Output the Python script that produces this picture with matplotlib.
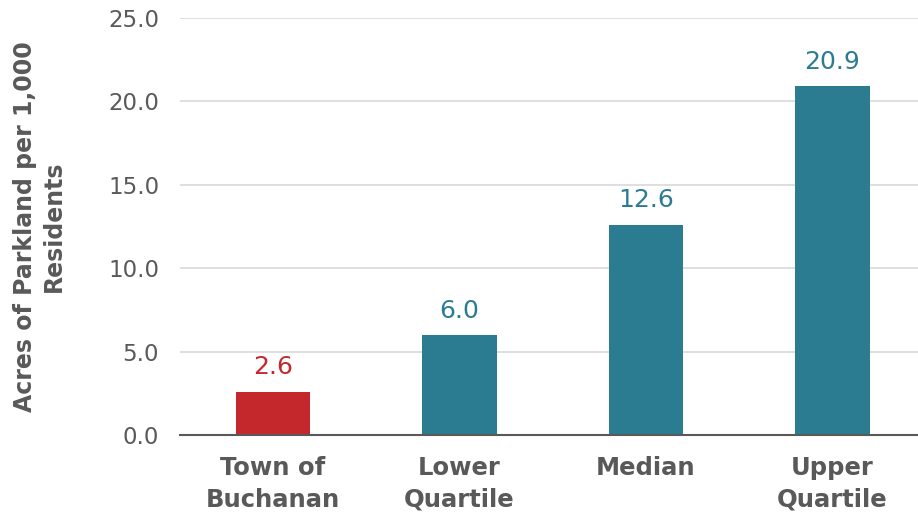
import matplotlib.pyplot as plt

# data
categories = ["Town of\nBuchanan", "Lower\nQuartile", "Median", "Upper\nQuartile"]
values = [2.6, 6.0, 12.6, 20.9]
bar_colors = ["#C4282D", "#2B7C90", "#2B7C90", "#2B7C90"]
yticks = [0, 5, 10, 15, 20, 25]

text_col = "#595959"
plt.rcParams['font.family'] = ['DejaVu Sans']

fig = plt.figure(figsize=(9.18, 5.15), dpi=100)
ax = fig.add_axes([0.196, 0.155, 0.804, 0.81])

x = range(len(values))
bars = ax.bar(x, values, width=0.4, color=bar_colors, zorder=3)

for b, v, c in zip(bars, values, bar_colors):
    ax.annotate(f"{v:.1f}", (b.get_x() + b.get_width() / 2, v),
                xytext=(0, 9), textcoords="offset points",
                ha="center", va="bottom", fontsize=18, color=c)

ax.set_ylim(0, 25)
ax.set_xlim(-0.5, 3.46)
ax.set_yticks(yticks)
ax.set_yticklabels([f"{t:.1f}" for t in yticks])
ax.set_xticks(list(x))
ax.set_xticklabels(categories, fontsize=17.5, fontweight="bold", color=text_col,
                   linespacing=1.4)
ax.tick_params(axis="y", labelsize=16.5, labelcolor=text_col, length=0, pad=15)
ax.tick_params(axis="x", length=0, pad=15)

ax.grid(axis="y", color="#D9D9D9", linewidth=1.2, zorder=0)
for s in ["top", "right", "left"]:
    ax.spines[s].set_visible(False)
ax.spines["bottom"].set_color(text_col)
ax.spines["bottom"].set_linewidth(1.5)
ax.spines["bottom"].set_zorder(4)

ax.set_ylabel("Acres of Parkland per 1,000\nResidents", fontsize=17,
              fontweight="bold", color=text_col, labelpad=30, linespacing=1.3)

fig.savefig("out.png", dpi=100)
